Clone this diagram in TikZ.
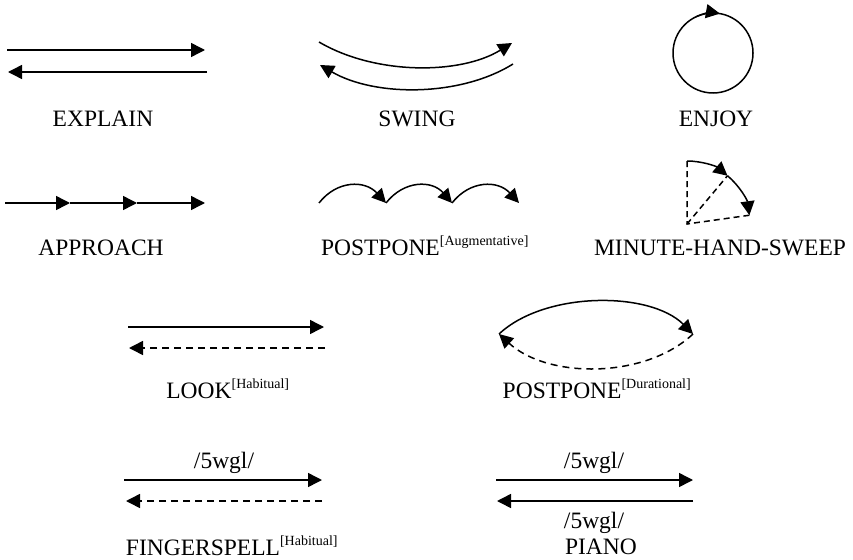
\documentclass[tikz,border=0pt]{standalone}
\usepackage{fontspec}
\setmainfont{Liberation Serif}
\usetikzlibrary{arrows.meta}
\newcommand\aspect[1]{\textsuperscript{\fontsize{14}{14}\selectfont[#1]}}
\tikzset{
    >={Triangle[length=14pt,width=14pt]}, % filled triangle heads
    move/.style={->, line width=1.5pt}, % a movement of the hand
    back/.style={move, dash pattern=on 7pt off 5pt}, % the return movement
    guide/.style={line width=1.5pt, dash pattern=on 6pt off 4pt},
    sign/.style={anchor=base, inner sep=0pt, font=\fontsize{23.5}{28}\selectfont},
}

\begin{document}
\begin{tikzpicture}[x=1pt, y=-1pt]
\useasboundingbox (0,0) rectangle (853,559);

% EXPLAIN
\coordinate (ex1) at (7,50);
\coordinate (ex2) at (205,50);
\coordinate (ex3) at (207,72);
\coordinate (ex4) at (8,72);
\draw[move] (ex1) -- (ex2);
\draw[move] (ex3) -- (ex4);
\node[sign] (explain) at (103,126) {EXPLAIN};

% SWING
\coordinate (sw1) at (319,42);
\coordinate (sw2) at (512,43);
\coordinate (sw3) at (513,64);
\coordinate (sw4) at (320,65);
\draw[move] (sw1) .. controls (375,75) and (460,75) .. (sw2);
\draw[move] (sw3) .. controls (460,97) and (375,97) .. (sw4);
\node[sign] (swing) at (417,126) {SWING};

% ENJOY
\coordinate (enj) at (713,53);
\draw[line width=1.5pt] (enj) circle[radius=40];
\draw[move] ([shift={(-115:40)}]enj) arc[start angle=-115, end angle=-80, radius=40];
\node[sign] (enjoy) at (716,126) {ENJOY};

% APPROACH
\coordinate (ap0) at (5,203);
\coordinate (ap1) at (70,203);
\coordinate (ap2) at (137,203);
\coordinate (ap3) at (205,203);
\foreach \a/\b in {ap0/ap1, ap1/ap2, ap2/ap3}
    \draw[move] (\a) -- (\b);
\node[sign] (approach) at (101,255) {APPROACH};

% POSTPONE, augmentative
\coordinate (pa0) at (319,203);
\coordinate (pa1) at (386,203);
\coordinate (pa2) at (452,203);
\coordinate (pa3) at (519,203);
\draw[move] (pa0) .. controls (337,180) and (365,180) .. (pa1);
\draw[move] (pa1) .. controls (404,180) and (432,180) .. (pa2);
\draw[move] (pa2) .. controls (470,180) and (498,180) .. (pa3);
\node[sign] (postponeaug) at (425,255) {POSTPONE\aspect{Augmentative}};

% MINUTE-HAND-SWEEP
\coordinate (mhc) at (687,224);
\coordinate (mh0) at ([shift={(-90:63)}]mhc);
\coordinate (mh1) at ([shift={(-50:63)}]mhc);
\coordinate (mh2) at ([shift={(-8:63)}]mhc);
\draw[guide] (mh0) -- (mhc) -- (mh2);
\draw[guide] (mhc) -- (mh1);
\draw[move] (mh0) arc[start angle=-90, end angle=-50, radius=63];
\draw[move] (mh1) arc[start angle=-50, end angle=-8, radius=63];
\node[sign] (minute) at (720,255) {MINUTE-HAND-SWEEP};

% LOOK, habitual
\coordinate (lk1) at (128,327);
\coordinate (lk2) at (324,327);
\coordinate (lk3) at (325,348);
\coordinate (lk4) at (129,348);
\draw[move] (lk1) -- (lk2);
\draw[back] (lk3) -- (lk4);
\node[sign] (look) at (228,398) {LOOK\aspect{Habitual}};

% POSTPONE, durational
\coordinate (pd1) at (499,334);
\coordinate (pd2) at (693,334);
\draw[move] (pd1) .. controls (545,291) and (650,291) .. (pd2);
\draw[back] (pd2) .. controls (645,379) and (548,379) .. (pd1);
\node[sign] (postponedur) at (597,398) {POSTPONE\aspect{Durational}};

% FINGERSPELL, habitual
\coordinate (fs1) at (124,480);
\coordinate (fs2) at (322,480);
\coordinate (fs3) at (322,501);
\coordinate (fs4) at (126,501);
\draw[move] (fs1) -- (fs2);
\draw[back] (fs3) -- (fs4);
\node[sign] (fsgloss) at (224,468) {/5wgl/};
\node[sign] (fingerspell) at (232,555) {FINGERSPELL\aspect{Habitual}};

% PIANO
\coordinate (pn1) at (496,480);
\coordinate (pn2) at (693,480);
\coordinate (pn3) at (693,501);
\coordinate (pn4) at (497,501);
\draw[move] (pn1) -- (pn2);
\draw[move] (pn3) -- (pn4);
\node[sign] (pngloss1) at (594,468) {/5wgl/};
\node[sign] (pngloss2) at (594,528) {/5wgl/};
\node[sign] (piano) at (601,554) {PIANO};
\end{tikzpicture}
\end{document}
